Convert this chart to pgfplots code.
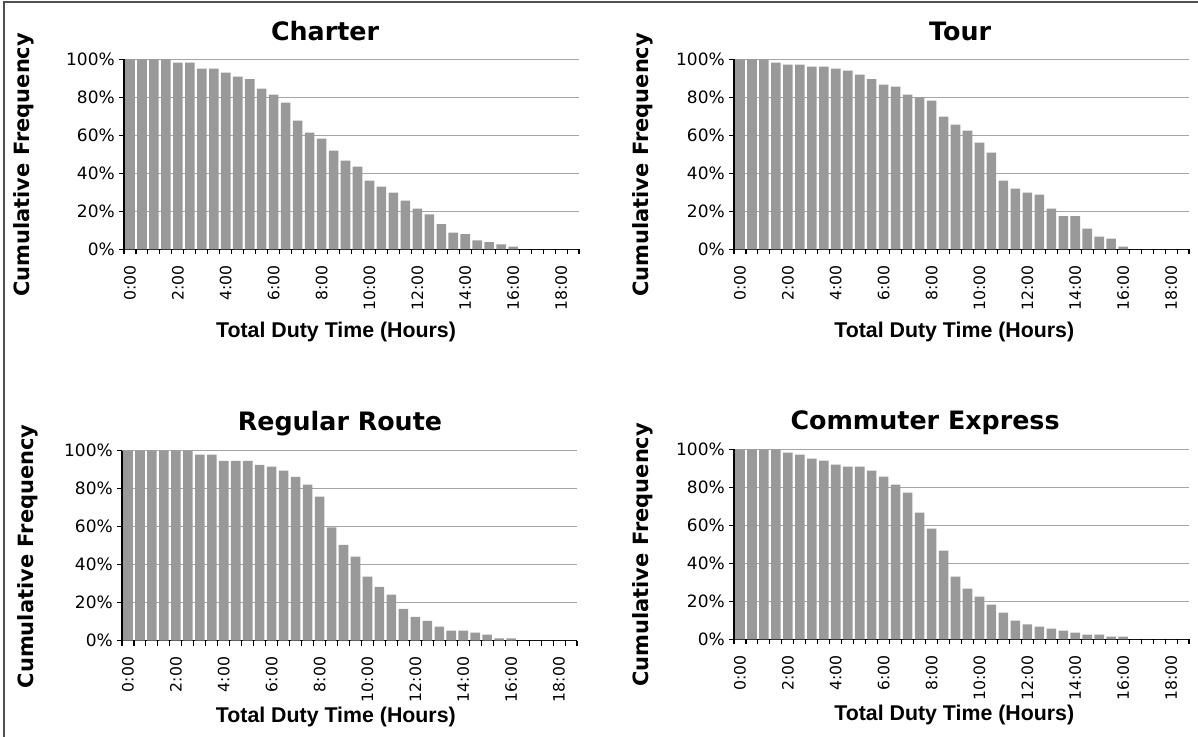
\documentclass[border=0pt]{standalone}
\usepackage{fontspec}
\setmainfont{Liberation Sans}
\newfontfamily\dejavu{DejaVu Sans}
\usepackage{pgfplots}
\usepackage{pgfplotstable}
\pgfplotsset{compat=1.18}

\definecolor{barfill}{RGB}{153,153,153}
\definecolor{gridgray}{RGB}{165,165,165}
\definecolor{framegray}{RGB}{80,80,80}

% cumulative frequency (%) per half hour of total duty time
\pgfplotstableread{
x  charter tour regular commuter
0  100   100   100   100
1  100   100   100   100
2  100   100   100   100
3  100   98.2  100   100
4  98.2  97.2  100   98.2
5  98.2  97.2  100   97.2
6  95.1  96.1  97.9  95.1
7  95.1  96.1  97.9  94.0
8  93.0  95.1  94.7  91.9
9  90.9  94.0  94.7  90.9
10 89.6  91.9  94.7  90.9
11 84.6  89.6  92.6  88.8
12 81.4  86.7  91.6  85.6
13 77.2  85.6  89.5  81.4
14 67.7  81.4  86.3  77.2
15 61.4  80.0  82.1  66.7
16 58.2  78.2  75.8  58.2
17 51.9  69.8  59.6  46.7
18 46.7  65.6  50.5  33.0
19 43.5  62.5  44.2  26.7
20 36.1  56.1  33.7  22.5
21 33.0  50.9  28.4  18.2
22 29.8  36.1  24.2  14.0
23 25.6  31.9  16.8  9.8
24 21.4  29.8  12.6  7.9
25 18.4  28.8  10.5  6.7
26 13.2  21.4  7.4   5.6
27 8.8   17.4  5.3   4.6
28 7.9   17.4  5.3   3.5
29 4.7   10.9  4.2   2.5
30 3.7   6.7   3.2   2.5
31 2.6   5.6   1.2   1.4
32 1.4   1.4   1.2   1.4
33 0     0     0     0
34 0     0     0     0
35 0     0     0     0
36 0     0     0     0
37 0     0     0     0
}\duty

\pgfplotsset{
  dutychart/.style={
    scale only axis, width=341.25pt, height=142.5pt,
    xmin=-0.5, xmax=37.5, ymin=0, ymax=100,
    axis x line*=bottom, axis y line*=left,
    axis line style={black, line width=0.9pt, -},
    ytick={0,20,...,100},
    yticklabels={0\%,20\%,40\%,60\%,80\%,100\%},
    ymajorgrids, grid style={gridgray, line width=0.9pt},
    xtick={0,4,...,36},
    xticklabels={0:00,2:00,4:00,6:00,8:00,10:00,12:00,14:00,16:00,18:00},
    minor xtick={-0.5,0.5,...,37.5},
    tick align=outside, major tick length=3.75pt, minor tick length=3.75pt,
    major x tick style={draw=none},
    tick style={black, line width=0.8pt},
    yticklabel style={font=\dejavu\fontsize{12.75}{15}\selectfont,
      anchor=east, inner sep=0pt, xshift=-3pt},
    xticklabel style={font=\dejavu\fontsize{11.75}{14}\selectfont,
      yshift=-8.25pt, rotate=90, anchor=east, inner sep=0pt},
    every axis title/.style={font=\dejavu\bfseries\fontsize{19}{22}\selectfont},
    every axis x label/.style={font=\bfseries\fontsize{16}{18}\selectfont},
    every axis y label/.style={font=\dejavu\bfseries\fontsize{15.75}{18}\selectfont},
  },
  duty bars/.style={ybar, bar width=0.8, fill=barfill, draw=none},
}

\begin{document}
\begin{tikzpicture}
\useasboundingbox (0,0) rectangle (898.5pt,552.75pt);
\draw[framegray, line width=1.5pt] (3pt,0) -- (3pt,550.9pt) -- (898.5pt,550.9pt);

% Charter
\begin{axis}[dutychart, at={(93pt,365.8pt)}, anchor=south west,
  title={Charter},
  title style={at={(axis description cs:0.442,1)}, anchor=base, yshift=14.25pt},
  xlabel={Total Duty Time (Hours)},
  xlabel style={at={(axis description cs:0.466,0)}, anchor=base, yshift=-66pt},
  ylabel={Cumulative Frequency},
  ylabel style={at={(axis description cs:0,0.444)}, xshift=-70.5pt, rotate=90, anchor=base},
]
\addplot[duty bars] table[x=x, y=charter] {\duty};
\end{axis}

% Tour
\begin{axis}[dutychart, at={(550.5pt,365.8pt)}, anchor=south west,
  title={Tour},
  title style={at={(axis description cs:0.497,1)}, anchor=base, yshift=14.25pt},
  xlabel={Total Duty Time (Hours)},
  xlabel style={at={(axis description cs:0.484,0)}, anchor=base, yshift=-66pt},
  ylabel={Cumulative Frequency},
  ylabel style={at={(axis description cs:0,0.444)}, xshift=-64.5pt, rotate=90, anchor=base},
]
\addplot[duty bars] table[x=x, y=tour] {\duty};
\end{axis}

% Regular Route
\begin{axis}[dutychart, at={(91.5pt,72.2pt)}, anchor=south west,
  title={Regular Route},
  title style={at={(axis description cs:0.479,1)}, anchor=base, yshift=15.5pt},
  xlabel={Total Duty Time (Hours)},
  xlabel style={at={(axis description cs:0.470,0)}, anchor=base, yshift=-61pt},
  ylabel={Cumulative Frequency},
  ylabel style={at={(axis description cs:0,0.444)}, xshift=-66.5pt, rotate=90, anchor=base},
]
\addplot[duty bars] table[x=x, y=regular] {\duty};
\end{axis}

% Commuter Express
\begin{axis}[dutychart, at={(550.5pt,73.3pt)}, anchor=south west,
  title={Commuter Express},
  title style={at={(axis description cs:0.42,1)}, anchor=base, yshift=14.5pt},
  xlabel={Total Duty Time (Hours)},
  xlabel style={at={(axis description cs:0.484,0)}, anchor=base, yshift=-61pt},
  ylabel={Cumulative Frequency},
  ylabel style={at={(axis description cs:0,0.444)}, xshift=-64.5pt, rotate=90, anchor=base},
]
\addplot[duty bars] table[x=x, y=commuter] {\duty};
\end{axis}
\end{tikzpicture}
\end{document}
